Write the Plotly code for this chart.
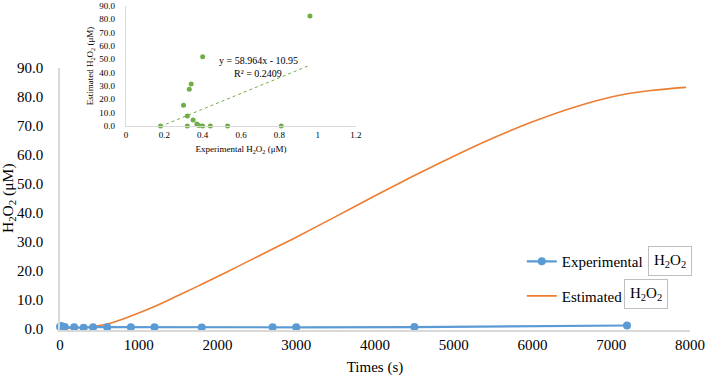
import plotly.graph_objects as go

# Experimental H2O2 (main chart, blue)
exp_time = [0, 15, 30, 60, 180, 300, 420, 600, 900, 1200, 1800, 2700, 3000, 4500, 7200]
exp_h2o2 = [0.53, 0.81, 0.44, 0.40, 0.32, 0.18, 0.38, 0.37, 0.35, 0.32, 0.30, 0.33, 0.34, 0.40, 0.96]

# Estimated H2O2 (main chart, orange model curve)
est_time = [0, 300, 600, 900, 1200, 1500, 1800, 2100, 2400, 2700, 3000, 3500, 4000, 4500,
            5000, 5500, 6000, 6500, 7000, 7500, 7950]
est_h2o2 = [0, 0.3, 1.5, 4.2, 7.5, 11.3, 15.2, 19.2, 23.3, 27.4, 31.5, 38.6, 45.8, 52.8,
            59.5, 65.8, 71.4, 76.2, 80.0, 82.2, 83.3]

# Inset: estimated vs experimental at the sampling times
inset_exp = exp_h2o2
inset_est = [0, 0, 0, 0, 0, 0, 0.3, 1.5, 4.5, 7.5, 15.5, 27.5, 31.5, 52, 82.5]
slope, intercept, r2 = 58.964, -10.95, 0.2409

main_yticks = [0, 10, 20, 30, 40, 50, 60, 70, 80, 90]
main_xticks = [0, 1000, 2000, 3000, 4000, 5000, 6000, 7000, 8000]
inset_xticks = [0, 0.2, 0.4, 0.6, 0.8, 1, 1.2]
inset_xlabels = ["0", "0.2", "0.4", "0.6", "0.8", "1", "1.2"]

BLUE = "#5B9BD5"
ORANGE = "#ED7D31"
GREEN = "#70AD47"
AXIS = "#D9D9D9"
FONT = "Liberation Serif"

fig = go.Figure()
fig.add_trace(go.Scatter(x=est_time, y=est_h2o2, mode="lines", name="Estimated",
                         legendgroup="est", legendrank=2,
                         line=dict(color=ORANGE, width=1.6, shape="spline"),
                         cliponaxis=False))
fig.add_trace(go.Scatter(x=exp_time, y=exp_h2o2, mode="lines+markers", name="Experimental",
                         legendgroup="exp", legendrank=1,
                         line=dict(color=BLUE, width=2.2), marker=dict(color=BLUE, size=8),
                         cliponaxis=False))

# inset
xs = [min(inset_exp), max(inset_exp)]
fig.add_trace(go.Scatter(x=xs, y=[slope * v + intercept for v in xs], mode="lines",
                         line=dict(color=GREEN, width=1, dash="dot"), showlegend=False,
                         xaxis="x2", yaxis="y2"))
fig.add_trace(go.Scatter(x=inset_exp, y=inset_est, mode="markers",
                         marker=dict(color=GREEN, size=5), showlegend=False,
                         xaxis="x2", yaxis="y2", cliponaxis=False))

fig.update_layout(
    width=706, height=380,
    margin=dict(l=60, r=16, t=6, b=50, autoexpand=False),
    paper_bgcolor="white", plot_bgcolor="white",
    font=dict(family=FONT, color="#000000", size=15),
    showlegend=True,
    legend=dict(x=0.733, y=0.262, xanchor="left", yanchor="top",
                traceorder="grouped", itemwidth=30, tracegroupgap=12,
                font=dict(size=15, family=FONT), bgcolor="rgba(0,0,0,0)"),
    xaxis=dict(domain=[0, 1], range=[0, 8000], tickvals=main_xticks, automargin=False,
               showgrid=False, zeroline=False, showline=True, linecolor=AXIS, linewidth=1.5,
               ticks="", tickfont=dict(size=15),
               title=dict(text="Times (s)", font=dict(size=15), standoff=10)),
    yaxis=dict(domain=[0, 0.8086], range=[-0.6, 90], tickvals=main_yticks, tickformat=".1f",
               automargin=False,
               showgrid=False, zeroline=False, showline=True, linecolor=AXIS, linewidth=1.5,
               ticks="", ticklabelstandoff=12, tickfont=dict(size=15)),
    xaxis2=dict(domain=[0.1048, 0.4698], range=[0, 1.2], anchor="y2", tickvals=inset_xticks,
                ticktext=inset_xlabels, showgrid=False, zeroline=False, showline=True,
                automargin=False,
                linecolor=AXIS, linewidth=1.2, ticks="", tickfont=dict(size=9),
                title=dict(text="Experimental H<sub>2</sub>O<sub>2</sub> (μM)", font=dict(size=9), standoff=6)),
    yaxis2=dict(domain=[0.6296, 1.0], range=[0, 90], anchor="x2", tickvals=main_yticks,
                tickformat=".1f", showgrid=False, zeroline=False, showline=True,
                automargin=False,
                linecolor=AXIS, linewidth=1.2, ticks="", ticklabelstandoff=8, tickfont=dict(size=9),
                title=dict(text="Estimated H<sub>2</sub>O<sub>2</sub> (μM)", font=dict(size=9), standoff=4)),
)

pl, pw, pt, ph = 60, 630, 6, 324
def px(x):
    return (x - pl) / pw
def py(y):
    return (pt + ph - y) / ph

# main y-axis title
fig.add_annotation(x=px(8), y=py(198), xref="paper", yref="paper", showarrow=False,
                   text="H<sub>2</sub>O<sub>2</sub> (μM)", textangle=-90,
                   font=dict(size=15.5, family=FONT), xanchor="center", yanchor="middle")

fig.add_annotation(x=0.689, y=49.5, xref="x2", yref="y2", showarrow=False,
                   text=f"y = {slope}x - {abs(intercept)}", font=dict(size=10, family=FONT))
fig.add_annotation(x=0.689, y=39.7, xref="x2", yref="y2", showarrow=False,
                   text=f"R² = {r2}", font=dict(size=10, family=FONT))

# boxed H2O2 labels next to the legend entries
fig.add_annotation(x=px(648), y=py(261), xref="paper", yref="paper", showarrow=False,
                   text="H<sub>2</sub>O<sub>2</sub>", font=dict(size=15, family=FONT),
                   bordercolor="#BFBFBF", borderwidth=1, borderpad=5,
                   xanchor="left", yanchor="middle")
fig.add_annotation(x=px(624), y=py(294), xref="paper", yref="paper", showarrow=False,
                   text="H<sub>2</sub>O<sub>2</sub>", font=dict(size=15, family=FONT),
                   bordercolor="#BFBFBF", borderwidth=1, borderpad=5,
                   xanchor="left", yanchor="middle")

fig.write_html("out.html", config={"displayModeBar": False},
               post_script="document.body.style.margin='0';")
